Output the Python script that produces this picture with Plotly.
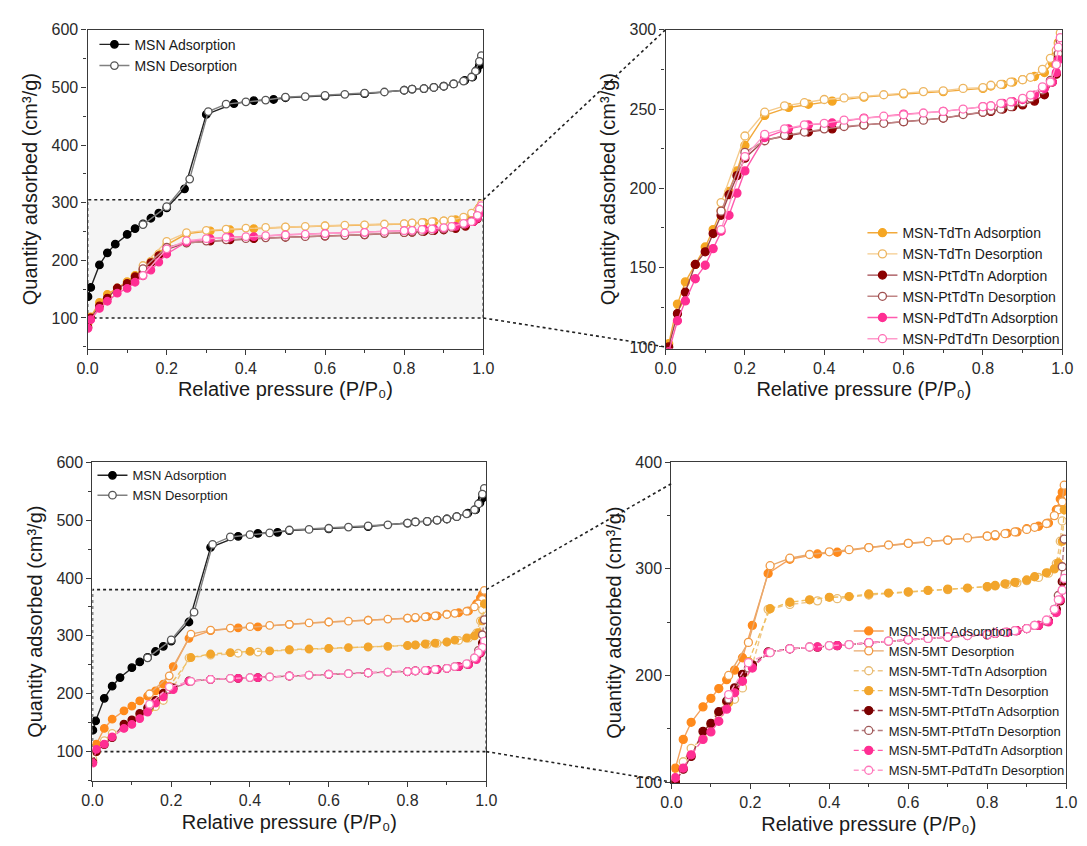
import plotly.graph_objects as go

W, H = 1087, 846          # browser window
OFF = 8                   # default page margin around the plot div
FW, FH = W - OFF, H - OFF  # figure size so nothing overflows

# ---------------- data ----------------
# MSN (parent) isotherm
P_ADS_MSN = [0.001, 0.008, 0.03, 0.05, 0.07, 0.1, 0.12, 0.14, 0.16, 0.18, 0.2, 0.245, 0.3, 0.37, 0.42,
             0.47, 0.5, 0.6, 0.7, 0.8, 0.82, 0.85, 0.875, 0.9, 0.925, 0.953, 0.973, 0.984, 0.99]
MSN_ADS = [137, 153, 192, 213, 228, 245, 255, 263, 273, 282, 291, 324, 453, 472, 477,
           479, 482, 485, 489, 495, 497, 498, 500, 502, 506, 512, 518, 530, 538]
P_DES_MSN = [0.995, 0.99, 0.98, 0.97, 0.95, 0.925, 0.9, 0.875, 0.85, 0.82, 0.8, 0.75, 0.7, 0.65, 0.6,
             0.55, 0.5, 0.45, 0.4, 0.35, 0.305, 0.258, 0.2, 0.14]
MSN_DES = [555, 545, 528, 518, 511, 506, 502, 500, 498, 497, 495, 492, 490, 488, 486,
           484, 483, 478, 475, 471, 458, 341, 293, 262]

# TdTn family
P_ADS = [0.001, 0.008, 0.03, 0.05, 0.075, 0.1, 0.12, 0.14, 0.16, 0.18, 0.2, 0.25, 0.31, 0.36, 0.42,
         0.5, 0.6, 0.7, 0.8, 0.82, 0.85, 0.875, 0.9, 0.93, 0.955, 0.975, 0.985, 0.99]
P_DES = [0.995, 0.99, 0.985, 0.97, 0.95, 0.92, 0.9, 0.87, 0.845, 0.82, 0.8, 0.75, 0.7, 0.65, 0.6,
         0.55, 0.5, 0.45, 0.4, 0.35, 0.3, 0.25, 0.2, 0.14]
TDTN_ADS = [90, 102, 127, 141, 152, 163, 174, 186, 198, 211, 227, 246, 251, 253, 255,
            257.5, 259.5, 261, 263, 264.5, 265.5, 267, 268.5, 270.5, 273, 279, 285, 292]
TDTN_DES = [298, 291, 287, 282, 275, 270, 268.5, 267, 265.6, 265, 263.5, 263, 261.5, 261, 260,
            259, 258, 257, 256, 254, 252, 248, 233, 191]
PT_ADS = [84, 100, 121, 134.5, 152, 160, 171.5, 183, 196, 208, 219, 230.5, 233.4, 235.5, 237.5,
          240, 242, 244.3, 248, 248.5, 250, 251.5, 252.6, 255, 259, 267, 272, 282]
PT_DES = [293, 285, 278, 268, 262, 257, 254, 251.5, 250, 249, 248, 246.5, 244.3, 243, 242,
          241, 240, 239, 237.5, 235.5, 233.4, 230, 222.7, 185.6]
PD_ADS = [82, 97, 116.5, 129, 143, 151.5, 162, 173, 183, 197, 211, 232, 237.5, 240, 241.2,
          244.3, 246.8, 248.5, 251.5, 252, 253.6, 254.6, 256, 258.8, 263, 267, 273, 281]
PD_DES = [295, 289, 278, 267, 264, 258.8, 256.7, 254.6, 253.6, 252, 251.5, 250, 248.5, 247.5, 246.4,
          245.5, 244, 243, 241, 240, 237.5, 234, 220, 174]

# 5MT family
P_ADS_5 = [0.001, 0.01, 0.03, 0.05, 0.08, 0.1, 0.12, 0.14, 0.16, 0.18, 0.205, 0.245, 0.3, 0.37, 0.42,
           0.5, 0.6, 0.7, 0.8, 0.82, 0.85, 0.875, 0.9, 0.93, 0.955, 0.975, 0.985, 0.99]
P_DES_5 = [0.995, 0.99, 0.98, 0.97, 0.95, 0.92, 0.9, 0.87, 0.845, 0.82, 0.8, 0.75, 0.7, 0.65, 0.6,
           0.55, 0.5, 0.45, 0.4, 0.35, 0.3, 0.25, 0.195, 0.145]
MT_ADS = [85, 113, 140, 156, 170.5, 178.5, 187.7, 196, 205, 216.6, 247, 295.7, 309, 314, 315.6,
          320, 324, 327, 330.7, 331, 333.4, 334.7, 337.7, 340, 343, 355.5, 365.6, 372]
MT_DES = [378.5, 363, 355.5, 350, 342.6, 339, 337, 334.7, 333, 332, 330.7, 329, 327, 325.5, 324,
          322.4, 320, 318, 316, 313.5, 310, 303, 231, 200]
MTT_ADS = [88, 100, 119, 131.6, 141, 154, 164, 174.5, 177.6, 188.3, 210, 262, 266.6, 270, 272,
           275.5, 278, 280.5, 283, 284, 285.5, 287, 289, 292, 296, 305, 326, 345]
MTT_DES = [355.5, 326, 305.5, 300, 296.3, 292.6, 289.6, 287.4, 286, 284.4, 283.4, 282, 281, 279.8, 278.5,
           277.3, 276.4, 274, 273.3, 271, 268.7, 262.6, 213, 174.5]
MTPT_ADS = [82, 100, 112, 124, 147.5, 155, 166, 176, 188.3, 201, 210, 222, 225, 226.5, 228,
            230.5, 233.5, 236, 238, 239.5, 240.5, 242, 244, 247, 251, 262, 270, 288]
MTPT_DES = [328, 302, 275, 262, 251, 247, 244, 242, 240.5, 239.6, 238.3, 237.4, 236, 234.7, 233.7,
            232.2, 230.7, 229, 228, 226.7, 225, 221.5, 207, 178]
MTPD_ADS = [80, 104, 113, 125.5, 140, 147, 157, 168.4, 183.7, 194.5, 207, 221.5, 225, 226.7, 228,
            230.7, 233.7, 236, 238.3, 239.6, 240.5, 242, 244, 247, 250.3, 259, 271, 280]
MTPD_DES = [291, 280, 271, 262, 252, 247, 244, 242, 240.5, 239.6, 238.3, 237.4, 236, 234.7, 233.7,
            232.2, 230.7, 229, 228, 226.7, 225, 221.5, 212, 182]

X_TICKS = [0.0, 0.2, 0.4, 0.6, 0.8, 1.0]
X_TITLE = "Relative pressure (P/P\u2080)"
Y_TITLE = "Quantity adsorbed (cm\u00b3/g)"


# ---------------- layout geometry (window pixels -> paper) ----------------
def xdom(l, r):
    return [(l - OFF) / FW, (r - OFF) / FW]


def ydom(top, bottom):
    return [1 - (bottom - OFF) / FH, 1 - (top - OFF) / FH]


DOM = {
    1: (xdom(78, 482), ydom(22, 347), [0, 1], [47, 600]),
    2: (xdom(668, 1073), ydom(22, 347), [0, 1], [99, 300]),
    3: (xdom(83, 485), ydom(463, 788), [0, 1], [49, 600]),
    4: (xdom(674, 1077), ydom(463, 790), [0, 1], [99, 400]),
}

FONT = "Liberation Sans, Arial, sans-serif"

fig = go.Figure()


def add(k, x, y, name, line_c, mk_c, filled, legend, show, dash="solid", size=7.5):
    xa = "x" if k == 1 else f"x{k}"
    ya = "y" if k == 1 else f"y{k}"
    fig.add_trace(go.Scatter(
        x=x, y=y, name=name, mode="lines+markers", xaxis=xa, yaxis=ya,
        legend=legend, showlegend=show,
        line=dict(color=line_c, width=1.4, dash=dash),
        marker=dict(symbol="circle", size=size, color=mk_c if filled else "white",
                    line=dict(color=mk_c, width=1.3)),
    ))


C = {
    "msn_a": ("#222222", "#000000"), "msn_d": ("#808080", "#555555"),
    "td_a": ("#F2A93B", "#F5A623"), "td_d": ("#F5CB8C", "#EDB661"),
    "pt_a": ("#A0464C", "#8B0000"), "pt_d": ("#C08585", "#A05050"),
    "pd_a": ("#FF5AAE", "#FF2E93"), "pd_d": ("#FF9BCB", "#FF6FB5"),
    "mt_a": ("#F5A25E", "#FF8A1C"), "mt_d": ("#E9A96C", "#F09A45"),
    "mtt_a": ("#EFC789", "#E8BC74"), "mtt_d": ("#F0C060", "#F2A52C"),
    "mtpt_a": ("#9E3A48", "#7A0000"), "mtpt_d": ("#B47A7E", "#A05A5A"),
    "mtpd_a": ("#FF5CAD", "#FF2E93"), "mtpd_d": ("#FF9ACB", "#FF78BC"),
}

# ---- top-left ----
add(1, P_ADS_MSN, MSN_ADS, "MSN Adsorption", *C["msn_a"], True, "legend", True)
add(1, P_DES_MSN, MSN_DES, "MSN Desorption", *C["msn_d"], False, "legend", True)
add(1, P_ADS, TDTN_ADS, "MSN-TdTn Adsorption", *C["td_a"], True, "legend", False)
add(1, P_DES, TDTN_DES, "MSN-TdTn Desorption", *C["td_d"], False, "legend", False)
add(1, P_ADS, PT_ADS, "MSN-PtTdTn Adorption", *C["pt_a"], True, "legend", False)
add(1, P_DES, PT_DES, "MSN-PtTdTn Desorption", *C["pt_d"], False, "legend", False)
add(1, P_ADS, PD_ADS, "MSN-PdTdTn Adsorption", *C["pd_a"], True, "legend", False)
add(1, P_DES, PD_DES, "MSN-PdTdTn Desorption", *C["pd_d"], False, "legend", False)

# ---- top-right ----
add(2, P_ADS, TDTN_ADS, "MSN-TdTn Adsorption", *C["td_a"], True, "legend2", True, size=8)
add(2, P_DES, TDTN_DES, "MSN-TdTn Desorption", *C["td_d"], False, "legend2", True, size=8)
add(2, P_ADS, PT_ADS, "MSN-PtTdTn Adorption", *C["pt_a"], True, "legend2", True, size=8)
add(2, P_DES, PT_DES, "MSN-PtTdTn Desorption", *C["pt_d"], False, "legend2", True, size=8)
add(2, P_ADS, PD_ADS, "MSN-PdTdTn Adsorption", *C["pd_a"], True, "legend2", True, size=8)
add(2, P_DES, PD_DES, "MSN-PdTdTn Desorption", *C["pd_d"], False, "legend2", True, size=8)

# ---- bottom-left ----
DASH = "5px,3px"
add(3, P_ADS_MSN, MSN_ADS, "MSN Adsorption", *C["msn_a"], True, "legend3", True)
add(3, P_DES_MSN, MSN_DES, "MSN Desorption", *C["msn_d"], False, "legend3", True)
add(3, P_ADS_5, MT_ADS, "MSN-5MT Adsorption", *C["mt_a"], True, "legend3", False)
add(3, P_DES_5, MT_DES, "MSN-5MT Desorption", *C["mt_d"], False, "legend3", False)
add(3, P_ADS_5, MTT_ADS, "MSN-5MT-TdTn Adsorption", *C["mtt_a"], False, "legend3", False, DASH)
add(3, P_DES_5, MTT_DES, "MSN-5MT-TdTn Desorption", *C["mtt_d"], True, "legend3", False, DASH)
add(3, P_ADS_5, MTPT_ADS, "MSN-5MT-PtTdTn Adsorption", *C["mtpt_a"], True, "legend3", False, DASH)
add(3, P_DES_5, MTPT_DES, "MSN-5MT-PtTdTn Desorption", *C["mtpt_d"], False, "legend3", False, DASH)
add(3, P_ADS_5, MTPD_ADS, "MSN-5MT-PdTdTn Adsorption", *C["mtpd_a"], True, "legend3", False, DASH)
add(3, P_DES_5, MTPD_DES, "MSN-5MT-PdTdTn Desorption", *C["mtpd_d"], False, "legend3", False, DASH)

# ---- bottom-right ----
add(4, P_ADS_5, MT_ADS, "MSN-5MT Adsorption", *C["mt_a"], True, "legend4", True, size=8)
add(4, P_DES_5, MT_DES, "MSN-5MT Desorption", *C["mt_d"], False, "legend4", True, size=8)
add(4, P_ADS_5, MTT_ADS, "MSN-5MT-TdTn Adsorption", *C["mtt_a"], False, "legend4", True, DASH, size=8)
add(4, P_DES_5, MTT_DES, "MSN-5MT-TdTn Desorption", *C["mtt_d"], True, "legend4", True, DASH, size=8)
add(4, P_ADS_5, MTPT_ADS, "MSN-5MT-PtTdTn Adsorption", *C["mtpt_a"], True, "legend4", True, DASH, size=8)
add(4, P_DES_5, MTPT_DES, "MSN-5MT-PtTdTn Desorption", *C["mtpt_d"], False, "legend4", True, DASH, size=8)
add(4, P_ADS_5, MTPD_ADS, "MSN-5MT-PdTdTn Adsorption", *C["mtpd_a"], True, "legend4", True, DASH, size=8)
add(4, P_DES_5, MTPD_DES, "MSN-5MT-PdTdTn Desorption", *C["mtpd_d"], False, "legend4", True, DASH, size=8)


def axis_style(dom, rng, dtick, minor_dtick, title, standoff, tickvals=None):
    d = dict(
        domain=dom, range=rng, showline=True, linecolor="#3a3a3a", linewidth=1.3, mirror=True,
        ticks="outside", ticklen=5, tickwidth=1.2, tickcolor="#3a3a3a",
        showgrid=False, zeroline=False,
        tickfont=dict(family=FONT, size=16, color="#2a2a2a"),
        title=dict(text=title, font=dict(family=FONT, size=20, color="#1a1a1a"), standoff=standoff),
        minor=dict(ticks="outside", ticklen=3, tickwidth=1, tickcolor="#3a3a3a", dtick=minor_dtick),
    )
    if tickvals is not None:
        d["tickvals"] = tickvals
        d["ticktext"] = [f"{v:.1f}" for v in tickvals]
    else:
        d["dtick"] = dtick
        d["tick0"] = 0
    return d


layout = dict(
    width=FW, height=FH, margin=dict(l=0, r=0, t=0, b=0),
    paper_bgcolor="white", plot_bgcolor="white",
    font=dict(family=FONT, color="#222"),
)
for k, (xd, yd, xr, yr) in DOM.items():
    xs = "xaxis" if k == 1 else f"xaxis{k}"
    ys = "yaxis" if k == 1 else f"yaxis{k}"
    ydt = {1: 100, 2: 50, 3: 100, 4: 100}[k]
    ymn = {1: 50, 2: 25, 3: 50, 4: 50}[k]
    xa = axis_style(xd, xr, 0.2, 0.1, X_TITLE, 6, tickvals=X_TICKS)
    ya = axis_style(yd, yr, ydt, ymn, Y_TITLE, 8)
    ya["minor"]["tick0"] = 0
    xa["anchor"] = "y" if k == 1 else f"y{k}"
    ya["anchor"] = "x" if k == 1 else f"x{k}"
    layout[xs] = xa
    layout[ys] = ya


def legend_at(xpx, ypx, size, anchor="top"):
    return dict(x=(xpx - OFF) / FW, y=1 - (ypx - OFF) / FH, xanchor="left", yanchor=anchor,
                bgcolor="rgba(255,255,255,0)", borderwidth=0,
                font=dict(family=FONT, size=size, color="#1a1a1a"), tracegroupgap=0)


# legend text starts 40 px right of the legend's left edge
layout["legend"] = legend_at(85, 21, 14)
layout["legend2"] = legend_at(869, 213, 14)
layout["legend3"] = legend_at(83, 461, 13)
layout["legend4"] = legend_at(855, 793, 13, anchor="bottom")

fig.update_layout(**layout)


# ---------------- zoom boxes and connectors ----------------
def to_paper(k, xv, yv):
    xd, yd, xr, yr = DOM[k]
    px = xd[0] + (xv - xr[0]) / (xr[1] - xr[0]) * (xd[1] - xd[0])
    py = yd[0] + (yv - yr[0]) / (yr[1] - yr[0]) * (yd[1] - yd[0])
    return px, py


BOX = {1: (100, 305, 2, 300), 3: (100, 380, 4, 380)}
DOT = dict(color="#222222", width=1.6, dash="dot")
for k, (lo, hi, kr, hi_r) in BOX.items():
    xs = "x" if k == 1 else f"x{k}"
    ys = "y" if k == 1 else f"y{k}"
    fig.add_shape(type="rect", xref=xs, yref=ys, x0=0, x1=1, y0=lo, y1=hi,
                  fillcolor="#f5f5f5", line=DOT, layer="below")
    a = to_paper(k, 1, hi)
    b = to_paper(kr, 0, hi_r)
    fig.add_shape(type="line", xref="paper", yref="paper", x0=a[0], y0=a[1], x1=b[0], y1=b[1], line=DOT)
    a = to_paper(k, 1, lo)
    b = to_paper(kr, 0, 100)
    fig.add_shape(type="line", xref="paper", yref="paper", x0=a[0], y0=a[1], x1=b[0], y1=b[1], line=DOT)

fig.write_html("out.html")
